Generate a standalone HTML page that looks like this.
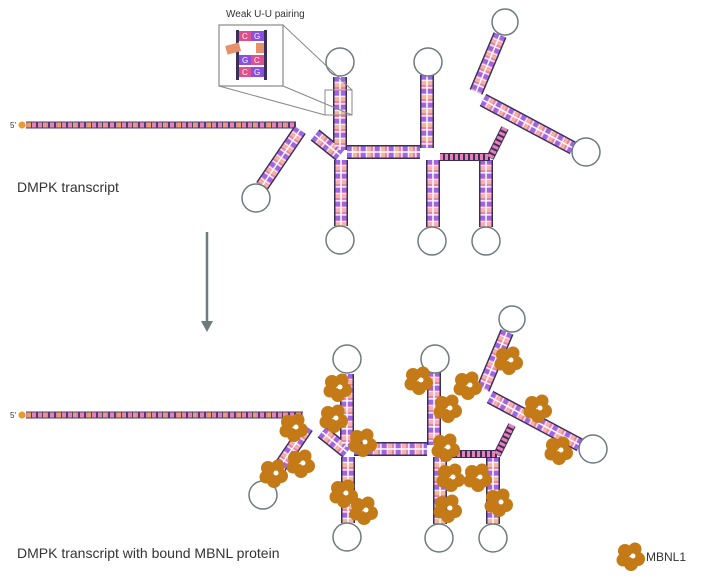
<!DOCTYPE html>
<html><head><style>
body{margin:0;background:#fff;width:724px;height:580px;overflow:hidden}
svg{display:block}
text{font-family:"Liberation Sans",sans-serif;fill:#333}
</style></head><body>
<svg width="724" height="580" viewBox="0 0 724 580">
<defs>
<g id="blob">
<circle cx="-5" cy="-5" r="7" fill="#c47a16"/><circle cx="5" cy="-7" r="6.5" fill="#c47a16"/>
<circle cx="8" cy="3" r="7" fill="#c47a16"/><circle cx="-7" cy="4" r="6.5" fill="#c47a16"/>
<circle cx="1" cy="8" r="7" fill="#c47a16"/><circle cx="3" cy="0" r="2.5" fill="#fff"/>
</g>
<g id="rna">
<g fill="none" stroke-linecap="butt">
<path id="sp" d="M300 130L262 186M315 135L340 155M340 77V150M347 152H420M427 75V148M433 160V227M486 160V227M341 160V226M500 35L476 92M483 100L573 148" stroke="#3a2f5a" stroke-width="14"/>
<path d="M300 130L262 186M315 135L340 155M340 77V150M347 152H420M427 75V148M433 160V227M486 160V227M341 160V226M500 35L476 92M483 100L573 148" stroke="#ea7fb4" stroke-width="11"/>
<path d="M300 130L262 186M315 135L340 155M340 77V150M347 152H420M427 75V148M433 160V227M486 160V227M341 160V226M500 35L476 92M483 100L573 148" stroke="#9a68e6" stroke-width="11" stroke-dasharray="4 10"/>
<path d="M300 130L262 186M315 135L340 155M340 77V150M347 152H420M427 75V148M433 160V227M486 160V227M341 160V226M500 35L476 92M483 100L573 148" stroke="#f4b59e" stroke-width="11" stroke-dasharray="3 11" stroke-dashoffset="7"/>
<path d="M300 130L262 186M315 135L340 155M340 77V150M347 152H420M427 75V148M433 160V227M486 160V227M341 160V226M500 35L476 92M483 100L573 148" stroke="#fff" stroke-width="11" stroke-dasharray="1.5 5.5" stroke-dashoffset="2" opacity="0.8"/>
<path d="M300 130L262 186M315 135L340 155M340 77V150M347 152H420M427 75V148M433 160V227M486 160V227M341 160V226M500 35L476 92M483 100L573 148" stroke="#fff" stroke-width="1.5"/>
<path d="M440 157H490M505 128L490 158" stroke="#3a2f5a" stroke-width="8"/>
<path d="M440 157H490M505 128L490 158" stroke="#ea7fb4" stroke-width="6" stroke-dasharray="3 2"/>
<g stroke="#6e7b7b" stroke-width="1.5" fill="#fff">
<circle cx="340" cy="62" r="14"/><circle cx="428" cy="62" r="14"/><circle cx="505" cy="22" r="13"/>
<circle cx="586" cy="152" r="14"/><circle cx="256" cy="198" r="14"/><circle cx="340" cy="240" r="14"/>
<circle cx="432" cy="241" r="14"/><circle cx="486" cy="241" r="14"/>
</g>
</g>
</g>
</defs>

<text x="10" y="128" font-size="8">5'</text>
<circle cx="22" cy="125" r="3.5" fill="#e89a2a"/>
<line x1="26" y1="125" x2="296" y2="125" stroke="#4a3f6a" stroke-width="7"/>
<line x1="26" y1="125" x2="296" y2="125" stroke="#ea7fb4" stroke-width="5" stroke-dasharray="4 2"/>
<line x1="28" y1="125" x2="296" y2="125" stroke="#e8a060" stroke-width="5" stroke-dasharray="3 12"/>
<use href="#rna"/>
<text x="17" y="192" font-size="14">DMPK transcript</text>

<text x="226" y="17" font-size="10">Weak U-U pairing</text>
<rect x="219" y="25" width="64" height="61" fill="#fff" stroke="#888" stroke-width="1.2"/>
<rect x="325" y="90" width="27" height="25" fill="none" stroke="#888" stroke-width="1"/>
<path d="M283 25L352 90M283 86L352 115M219 86L325 115" stroke="#888" stroke-width="1" fill="none"/>
<rect x="236" y="30" width="3" height="50" fill="#3a2f5a"/><rect x="264" y="30" width="3" height="50" fill="#3a2f5a"/>
<rect x="239" y="31" width="12" height="10" fill="#e0508e"/><rect x="251" y="31" width="13" height="10" fill="#8a4fe0"/>
<rect x="239" y="55" width="12" height="10" fill="#8a4fe0"/><rect x="251" y="55" width="13" height="10" fill="#e0508e"/>
<rect x="239" y="67" width="12" height="10" fill="#e0508e"/><rect x="251" y="67" width="13" height="10" fill="#8a4fe0"/>
<rect x="226" y="44" width="14" height="9" fill="#e8906a" transform="rotate(-15 233 48)"/>
<rect x="256" y="43" width="8" height="10" fill="#e8906a"/>
<g font-size="8"><text x="242" y="39" style="fill:#fff">C</text><text x="254" y="39" style="fill:#fff">G</text>
<text x="242" y="63" style="fill:#fff">G</text><text x="254" y="63" style="fill:#fff">C</text>
<text x="242" y="75" style="fill:#fff">C</text><text x="254" y="75" style="fill:#fff">G</text></g>

<line x1="207" y1="232" x2="207" y2="322" stroke="#6e7b7b" stroke-width="2.5"/>
<path d="M201 321L207 332L213 321Z" fill="#6e7b7b"/>

<text x="10" y="418" font-size="8">5'</text>
<circle cx="22" cy="415" r="3.5" fill="#e89a2a"/>
<line x1="26" y1="415" x2="303" y2="415" stroke="#4a3f6a" stroke-width="7"/>
<line x1="26" y1="415" x2="303" y2="415" stroke="#ea7fb4" stroke-width="5" stroke-dasharray="4 2"/>
<line x1="28" y1="415" x2="303" y2="415" stroke="#e8a060" stroke-width="5" stroke-dasharray="3 12"/>
<use href="#rna" transform="translate(7,297)"/>
<g>
<use href="#blob" x="293" y="427"/><use href="#blob" x="300" y="463"/><use href="#blob" x="273" y="473"/>
<use href="#blob" x="337" y="387"/><use href="#blob" x="333" y="418"/><use href="#blob" x="362" y="442"/>
<use href="#blob" x="343" y="493"/><use href="#blob" x="363" y="510"/><use href="#blob" x="418" y="380"/>
<use href="#blob" x="447" y="408"/><use href="#blob" x="445" y="447"/><use href="#blob" x="450" y="477"/>
<use href="#blob" x="447" y="508"/><use href="#blob" x="467" y="385"/><use href="#blob" x="508" y="360"/>
<use href="#blob" x="537" y="408"/><use href="#blob" x="558" y="450"/><use href="#blob" x="477" y="477"/>
<use href="#blob" x="498" y="502"/>
</g>
<text x="17" y="558" font-size="14">DMPK transcript with bound MBNL protein</text>
<use href="#blob" x="630" y="556"/>
<text x="646" y="561" font-size="12">MBNL1</text>
</svg>
</body></html>
